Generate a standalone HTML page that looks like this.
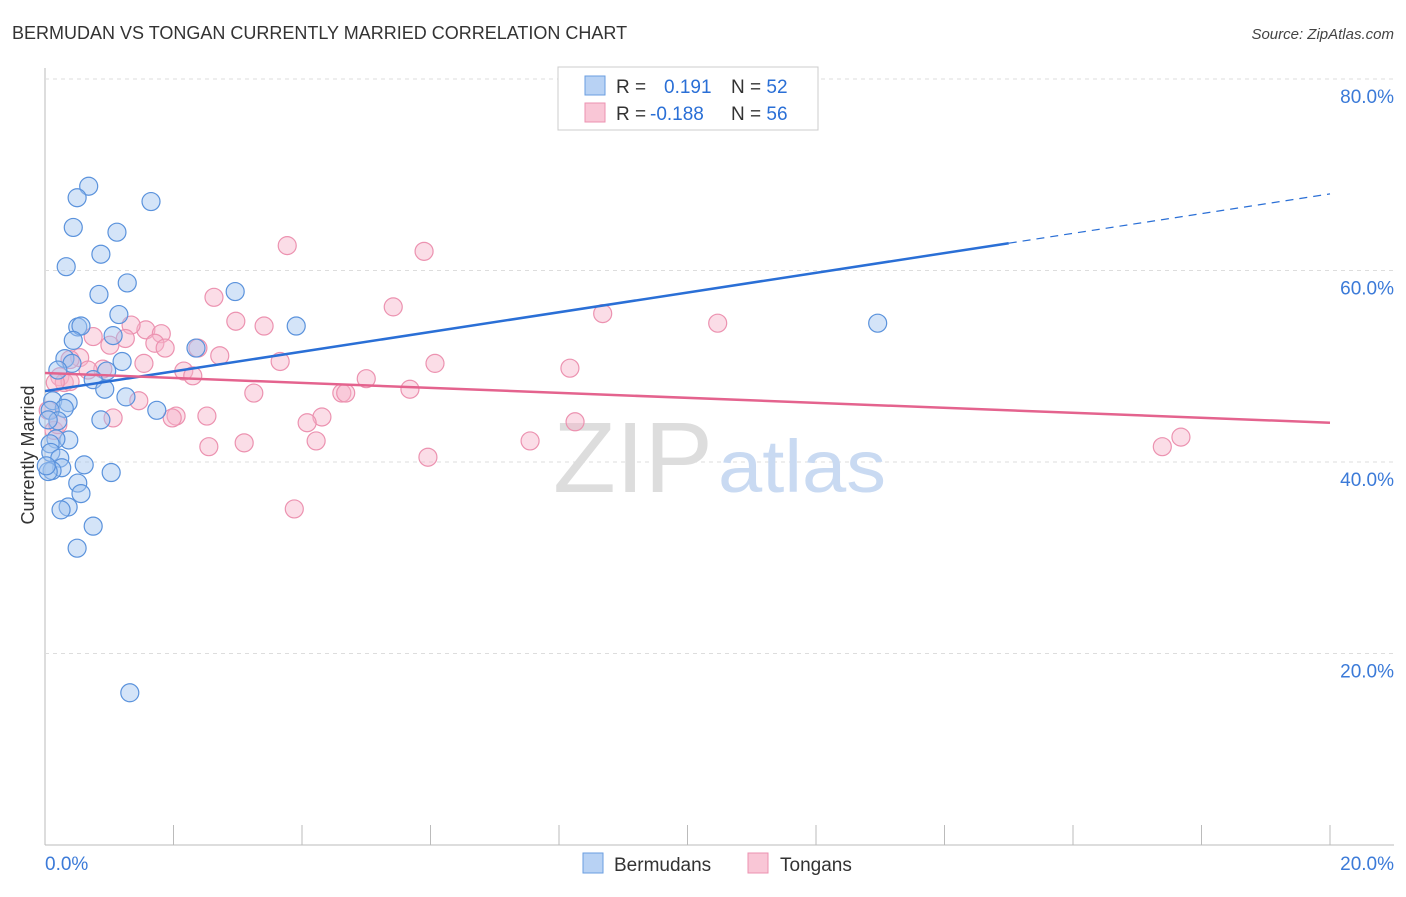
<!DOCTYPE html>
<html><head><meta charset="utf-8"><style>
body{margin:0;background:#fff;font-family:"Liberation Sans",sans-serif}
svg text{font-family:"Liberation Sans",sans-serif}
</style></head><body>
<svg width="1406" height="892">
<text x="12" y="39" font-size="18" fill="#333">BERMUDAN VS TONGAN CURRENTLY MARRIED CORRELATION CHART</text>
<text x="1394" y="39" font-size="15" fill="#444" font-style="italic" text-anchor="end">Source: ZipAtlas.com</text>
<g id="grid"></g>
<g id="wm">
<text x="553" y="492" font-size="100" font-family="Liberation Serif" fill="#ddd" textLength="160" lengthAdjust="spacingAndGlyphs">ZIP</text>
<text x="718" y="492" font-size="74" fill="#c9daf2" textLength="168" lengthAdjust="spacingAndGlyphs">atlas</text></g>
<g id="pts"></g><g id="lines"></g>
<text x="34" y="455" font-size="18" fill="#333" transform="rotate(-90 34 455)" text-anchor="middle">Currently Married</text>
<g>
<rect x="558" y="67" width="260" height="63" fill="#fff" stroke="#ccc"/>
<rect x="585" y="76" width="20" height="19" fill="#b8d2f4" stroke="#6a9ee0"/>
<rect x="585" y="103" width="20" height="19" fill="#f9c6d6" stroke="#ec92b0"/>
<text x="616" y="93" font-size="19" fill="#333">R = <tspan fill="#2a6fd6" x="664">0.191</tspan><tspan fill="#333" x="731">N = </tspan><tspan fill="#2a6fd6">52</tspan></text>
<text x="616" y="120" font-size="19" fill="#333">R = <tspan fill="#2a6fd6" x="650">-0.188</tspan><tspan fill="#333" x="731">N = </tspan><tspan fill="#2a6fd6">56</tspan></text>
</g>
<g>
<rect x="583" y="853" width="20" height="20" fill="#b8d2f4" stroke="#6a9ee0"/>
<text x="614" y="871" font-size="19" fill="#333">Bermudans</text>
<rect x="748" y="853" width="20" height="20" fill="#f9c6d6" stroke="#ec92b0"/>
<text x="780" y="871" font-size="19" fill="#333">Tongans</text></g>
</svg>
<script>
const bx=[.68,.50,1.65,.44,1.12,.87,.33,1.28,.84,2.96,1.15,.51,.56,3.91,.44,1.06,2.35,.31,1.20,.42,.20,.96,.75,.93,1.26,.12,.36,.30,.08,1.74,.87,.20,.05,.37,.17,.08,.09,.23,.61,.26,.11,.05,1.03,.51,.56,.36,.25,.75,.50,1.32,12.96,.02];
const by=[68.8,67.6,67.2,64.5,64.0,61.7,60.4,58.7,57.5,57.8,55.4,54.1,54.2,54.2,52.7,53.2,51.9,50.8,50.5,50.3,49.6,49.5,48.6,47.6,46.8,46.4,46.2,45.6,45.4,45.4,44.4,44.3,44.4,42.3,42.4,41.9,41.0,40.4,39.7,39.4,39.1,39.0,38.9,37.8,36.7,35.3,35.0,33.3,31.0,15.9,54.5,39.6];
const tx=[3.77,5.90,2.63,5.42,8.68,10.47,2.97,3.41,1.57,1.81,.75,1.34,1.25,1.71,1.01,1.87,2.38,2.72,.54,.39,3.66,1.54,6.07,8.17,.90,.67,2.16,2.30,.23,.30,.39,5.00,.16,5.68,1.46,3.25,4.62,4.68,2.52,2.04,1.98,1.06,4.31,4.08,.14,.20,8.25,4.22,7.55,2.55,3.10,5.96,3.88,17.39,17.68,.05];
const ty=[62.6,62.0,57.2,56.2,55.5,54.5,54.7,54.2,53.8,53.4,53.1,54.3,52.9,52.4,52.2,51.9,51.9,51.1,50.9,50.7,50.5,50.3,50.3,49.8,49.7,49.6,49.5,49.0,48.9,48.3,48.4,48.7,48.3,47.6,46.4,47.2,47.2,47.2,44.8,44.8,44.6,44.6,44.7,44.1,43.3,43.9,44.2,42.2,42.2,41.6,42.0,40.5,35.1,41.6,42.6,45.4];
const yTicks=[20,40,60,80];
const yTickLabels=["20.0%","40.0%","60.0%","80.0%"];
const blueTrend=[47.4,1.03], pinkTrend=[49.3,-0.26];
const X=v=>45+v*64.25, Y=v=>845-v*9.575;
const NS="http://www.w3.org/2000/svg";
function mk(t,a,p){const e=document.createElementNS(NS,t);for(const k in a)e.setAttribute(k,a[k]);p.appendChild(e);return e;}
const g=document.getElementById('grid');
mk('line',{x1:45,y1:68,x2:45,y2:845,stroke:'#bbb'},g);
mk('line',{x1:45,y1:845,x2:1394,y2:845,stroke:'#bbb'},g);
yTicks.forEach((t,i)=>{
 const l=mk('line',{x1:45,y1:Y(t),x2:1394,y2:Y(t),stroke:'#ddd','stroke-dasharray':'4,4'},g);
 
 const tx_=mk('text',{x:1394,y:Y(t)+24,'font-size':19,fill:'#3b7ad8','text-anchor':'end'},g);
 tx_.textContent=yTickLabels[i];
 
});
for(let i=1;i<=10;i++){const l=mk('line',{x1:X(i*2),y1:825,x2:X(i*2),y2:845,stroke:'#bbb'},g);
 }
const a=mk('text',{x:45,y:870,'font-size':19,fill:'#3b7ad8'},g);a.textContent='0.0%';

const b=mk('text',{x:1394,y:870,'font-size':19,fill:'#3b7ad8','text-anchor':'end'},g);b.textContent='20.0%';

const p=document.getElementById('pts');
tx.forEach((v,i)=>{const c=mk('circle',{cx:X(v),cy:Y(ty[i]),r:9,fill:'rgba(246,180,202,0.45)',stroke:'#ec92b0','stroke-width':1.2},p);
 });
bx.forEach((v,i)=>{const c=mk('circle',{cx:X(v),cy:Y(by[i]),r:9,fill:'rgba(160,196,240,0.45)',stroke:'#5a92dc','stroke-width':1.2},p);
 });
const L=document.getElementById('lines');
let e=mk('line',{x1:X(0),y1:Y(blueTrend[0]),x2:X(15),y2:Y(blueTrend[0]+15*blueTrend[1]),stroke:'#2a6fd6','stroke-width':2.5},L);

e=mk('line',{x1:X(15),y1:Y(blueTrend[0]+15*blueTrend[1]),x2:X(20),y2:Y(blueTrend[0]+20*blueTrend[1]),stroke:'#2a6fd6','stroke-width':1.2,'stroke-dasharray':'8,6'},L);

e=mk('line',{x1:X(0),y1:Y(pinkTrend[0]),x2:X(20),y2:Y(pinkTrend[0]+20*pinkTrend[1]),stroke:'#e4638e','stroke-width':2.5},L);

</script>
</body></html>
